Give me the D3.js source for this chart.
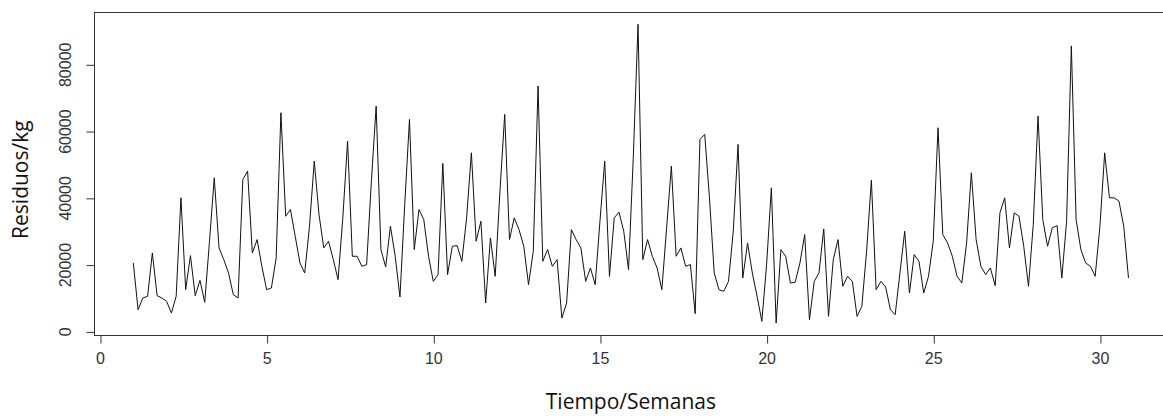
<!DOCTYPE html>
<html>
<head>
<meta charset="utf-8">
<script src="https://cdn.jsdelivr.net/npm/d3@7"></script>
<style>
  body { margin: 0; background: #fff; }
  svg { display: block; }
</style>
</head>
<body>
<svg id="chart" width="1163" height="416"></svg>
<script>
// Daily waste weights (kg), series starting at week 1 with 7 observations per week
const residuos = [
  20500, 6500, 10000, 10500, 23500, 10700, 10000,
  9000, 5500, 10500, 40000, 12500, 22700, 10700,
  15300, 8700, 27000, 46000, 25000, 21500, 17500,
  11000, 10000, 45500, 48000, 23500, 27500, 19500,
  12500, 13000, 22000, 65500, 34500, 36500, 28500,
  20500, 17500, 31500, 51000, 35000, 25000, 27000,
  21500, 15500, 34000, 57000, 22500, 22500, 19500,
  20000, 45000, 67500, 24500, 19300, 31500, 22500,
  10300, 38000, 63500, 24500, 36500, 33500, 22500,
  15000, 17000, 50300, 17000, 25500, 25700, 21000,
  34000, 53500, 27000, 33000, 8500, 28000, 16500,
  42000, 65000, 27500, 34000, 30500, 25500, 14000,
  24000, 73500, 21000, 24500, 19500, 21500, 4000,
  8500, 30500, 27500, 25000, 15000, 19000, 14000,
  33000, 51000, 16500, 34000, 35700, 30000, 18500,
  52000, 92000, 21500, 27500, 22500, 19000, 12500,
  31000, 49500, 22500, 25000, 19500, 20000, 5300,
  57500, 59000, 40000, 17500, 12500, 12000, 15000,
  30000, 56000, 16000, 26500, 17500, 10500, 3000,
  20000, 43000, 2500, 24500, 22500, 14500, 14700,
  20500, 29000, 3500, 15000, 17500, 30700, 4500,
  21500, 27500, 13500, 16500, 15000, 4500, 7500,
  24000, 45300, 12500, 15000, 13300, 6500, 5000,
  17500, 30000, 11500, 23000, 21000, 11500, 16500,
  27000, 61000, 29000, 26500, 22500, 16500, 14500,
  26500, 47500, 27500, 19500, 17000, 19000, 13700,
  35500, 40000, 25000, 35500, 34500, 25500, 13500,
  32000, 64500, 33500, 25500, 31000, 31700, 16000,
  33000, 85500, 33500, 24500, 20500, 19500, 16500,
  31500, 53500, 40000, 40000, 39000, 31500, 16000
];
const semanaInicio = 1;
const frecuencia = 7;

const xTicks = [0, 5, 10, 15, 20, 25, 30];
const yTicks = [0, 20000, 40000, 60000, 80000];
const xTitulo = "Tiempo/Semanas";
const yTitulo = "Residuos/kg";

const tiempo = residuos.map((_, i) => semanaInicio + i / frecuencia);

// Axis ranges are widened by 4% on each side, like a base R plot
function ampliar([a, b]) {
  const p = (b - a) * 0.04;
  return [a - p, b + p];
}

const caja = { left: 93.5, right: 1168.3, top: 12.3, bottom: 335 };

const x = d3.scaleLinear()
  .domain(ampliar(d3.extent(tiempo)))
  .range([caja.left, caja.right]);

const y = d3.scaleLinear()
  .domain(ampliar(d3.extent(residuos)))
  .range([caja.bottom, caja.top]);

const svg = d3.select("#chart");
const fuenteEjes = "'Liberation Sans', Arial, sans-serif";
const fuenteTitulos = "'Open Sans', sans-serif";

// Series line
const linea = d3.line()
  .x((d, i) => x(tiempo[i]))
  .y(d => y(d));

svg.append("path")
  .datum(residuos)
  .attr("d", linea)
  .attr("fill", "none")
  .attr("stroke", "#111")
  .attr("stroke-width", 1)
  .attr("stroke-linejoin", "miter");

// Plot frame
svg.append("rect")
  .attr("x", Math.round(caja.left) + 0.5)
  .attr("y", Math.round(caja.top) + 0.5)
  .attr("width", caja.right - caja.left)
  .attr("height", Math.round(caja.bottom) - Math.round(caja.top))
  .attr("fill", "none")
  .attr("stroke", "#333")
  .attr("stroke-width", 1);

// Bottom axis
const ejeX = svg.append("g")
  .attr("transform", `translate(0,${Math.round(caja.bottom) + 0.5})`)
  .call(d3.axisBottom(x).tickValues(xTicks).tickSize(8).tickFormat(d3.format("d")));
ejeX.select(".domain").remove();
ejeX.selectAll(".tick line").attr("stroke", "#333").attr("transform", "translate(0.5,0)");
ejeX.selectAll(".tick text")
  .attr("y", 28)
  .attr("dy", 0)
  .attr("fill", "#333")
  .style("font-family", fuenteEjes)
  .style("font-size", "16px");

// Left axis with labels running along the axis
const ejeY = svg.append("g")
  .attr("transform", `translate(${Math.round(caja.left) + 0.5},0)`)
  .call(d3.axisLeft(y).tickValues(yTicks).tickSize(8).tickFormat(d3.format("d")));
ejeY.select(".domain").remove();
ejeY.selectAll(".tick line").attr("stroke", "#333").attr("transform", "translate(0,0.5)");
ejeY.selectAll(".tick text")
  .attr("transform", "rotate(-90)")
  .attr("x", 0)
  .attr("y", -24)
  .attr("dy", 0)
  .attr("text-anchor", "middle")
  .attr("fill", "#333")
  .style("font-family", fuenteEjes)
  .style("font-size", "16px");

// Axis titles
svg.append("text")
  .attr("x", (caja.left + caja.right) / 2)
  .attr("y", 409)
  .attr("text-anchor", "middle")
  .attr("fill", "#111")
  .style("font-family", fuenteTitulos)
  .style("font-size", "21px")
  .text(xTitulo);

svg.append("text")
  .attr("transform", `translate(28,${(caja.top + caja.bottom) / 2 + 6}) rotate(-90)`)
  .attr("text-anchor", "middle")
  .attr("fill", "#111")
  .style("font-family", fuenteTitulos)
  .style("font-size", "21px")
  .text(yTitulo);
</script>
</body>
</html>
